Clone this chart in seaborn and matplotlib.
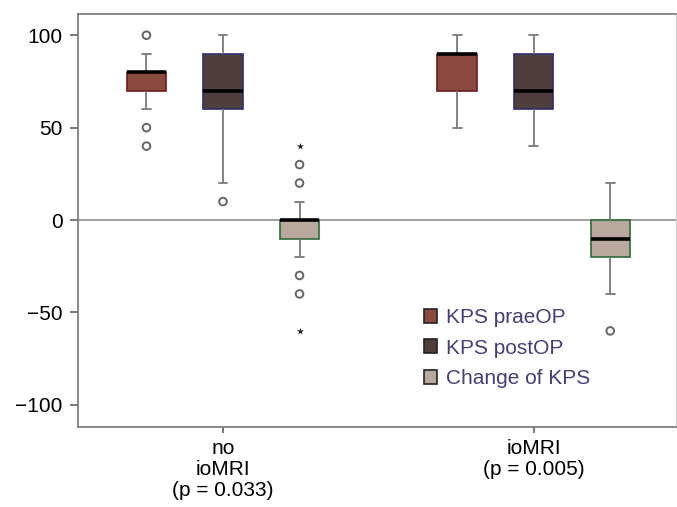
import pandas as pd
import seaborn as sns
import matplotlib.pyplot as plt
from matplotlib.patches import Patch

# Box values: [lower whisker, Q1, median, Q3, upper whisker]
groups = ["no\nioMRI\n(p = 0.033)", "ioMRI\n(p = 0.005)"]
measures = ["KPS praeOP", "KPS postOP", "Change of KPS"]
prae_stats = [[60, 70, 80, 80, 90], [50, 70, 90, 90, 100]]
post_stats = [[20, 60, 70, 90, 100], [40, 60, 70, 90, 100]]
change_stats = [[-20, -10, 0, 0, 10], [-40, -20, -10, 0, 20]]

# outliers (circles) and extremes (stars), per group
prae_out = [[100, 50, 40], []]
post_out = [[10], []]
change_out = [[30, 20, -30, -40], [-60]]
prae_ext = [[], []]
post_ext = [[], []]
change_ext = [[40, -60], []]

face_colors = ["#8B4A3F", "#4E3F3B", "#B9A89E"]
edge_colors = ["#6B1F1A", "#2E2E6E", "#2E6A3A"]
text_color = "#4A3D73"

rows = []
for m, stats in zip(measures, [prae_stats, post_stats, change_stats]):
    for g, vals in zip(groups, stats):
        for v in vals:
            rows.append({"group": g, "measure": m, "value": v})
df = pd.DataFrame(rows)

sns.set_style("white")
plt.rcParams["font.family"] = ["Liberation Sans", "DejaVu Sans"]

fig = plt.figure(figsize=(6.77, 5.07), dpi=100)
ax = fig.add_axes([0.1152, 0.1578, 0.8833, 0.8146])

ax.axhline(0, color="#888888", lw=1.1, zorder=0)

sns.boxplot(data=df, x="group", y="value", hue="measure", order=groups,
            hue_order=measures, palette=face_colors, saturation=1,
            whis=(0, 100), width=0.739, gap=0.485, linecolor="#7a7a7a",
            linewidth=1.3, legend=False, ax=ax,
            medianprops={"color": "black", "linewidth": 2.6},
            capwidths=0.028)

# recolour the box outlines and place outliers on the boxes
boxes = sorted(ax.patches, key=lambda p: p.get_path().get_extents().x0)
outs = [prae_out, post_out, change_out]
exts = [prae_ext, post_ext, change_ext]
for i, box in enumerate(boxes):
    g, m = divmod(i, 3)
    box.set_edgecolor(edge_colors[m])
    box.set_linewidth(1.2)
    ext = box.get_path().get_extents()
    xc = (ext.x0 + ext.x1) / 2
    if outs[m][g]:
        ax.scatter([xc] * len(outs[m][g]), outs[m][g], s=30, facecolors="none",
                   edgecolors="#666666", linewidths=1.4, zorder=4)
    if exts[m][g]:
        ax.scatter([xc] * len(exts[m][g]), exts[m][g], s=28, marker="*",
                   color="#222222", linewidths=0, zorder=4)

ax.set_xlim(-0.4667, 1.458)
ax.set_ylim(-112, 111.5)
ax.set_yticks([-100, -50, 0, 50, 100])
ax.set_xlabel("")
ax.set_ylabel("")

for side in ["left", "top", "bottom"]:
    ax.spines[side].set_visible(True)
    ax.spines[side].set_color("#777777")
    ax.spines[side].set_linewidth(1.2)
ax.spines["right"].set_visible(True)
ax.spines["right"].set_color("#d0d0d0")
ax.spines["right"].set_linewidth(1.0)

ax.tick_params(axis="y", direction="out", length=6, width=1.1, color="#555555",
               labelsize=15, labelcolor="black", pad=5, left=True)
ax.tick_params(axis="x", direction="out", length=4, width=1.1, color="#555555",
               labelsize=15, labelcolor="black", pad=5, bottom=True)
for lab in ax.get_xticklabels():
    lab.set_linespacing(1.12)

handles = [Patch(facecolor=c, edgecolor="#222222", linewidth=1.2) for c in face_colors]
leg = ax.legend(handles, measures, loc="upper left", bbox_to_anchor=(0.578, 0.288),
                frameon=False, fontsize=15, handlelength=0.65, handleheight=0.65,
                handletextpad=0.4, labelspacing=0.55, borderpad=0, borderaxespad=0)
for t in leg.get_texts():
    t.set_color(text_color)

fig.savefig("out.png", dpi=100)
